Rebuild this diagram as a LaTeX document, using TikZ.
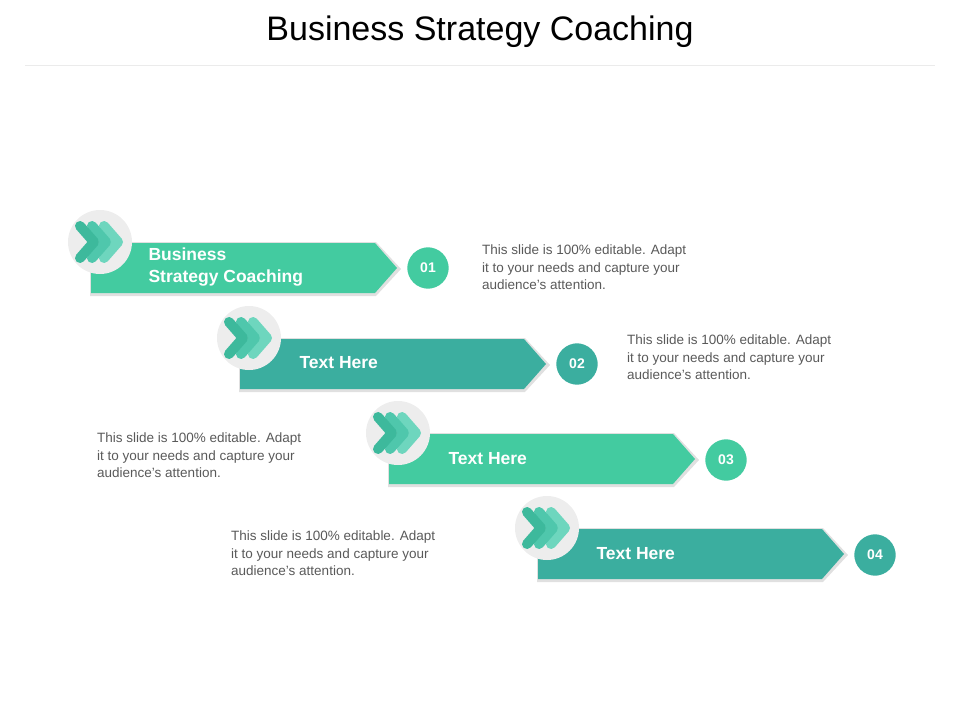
\documentclass[tikz,border=0pt]{standalone}
\usepackage{fontspec}
\setmainfont{Liberation Sans}
\usetikzlibrary{positioning}
\definecolor{mintA}{HTML}{43CBA0}
\definecolor{mintB}{HTML}{3BAE9F}
\definecolor{chevA}{HTML}{3DB99C}
\definecolor{chevB}{HTML}{4FC7AC}
\definecolor{chevC}{HTML}{6ED6BE}
\definecolor{bodygray}{HTML}{595959}
\tikzset{
  bandlabel/.style={text=white, font=\bfseries\fontsize{17.5}{22}\selectfont, anchor=west, align=left},
  numdisc/.style={circle, minimum size=44pt, inner sep=0pt, draw=white, line width=2.5pt, text=white, font=\bfseries\fontsize{14}{16}\selectfont},
  blurb/.style={text=bodygray, font=\fontsize{13.5}{17.5}\selectfont, anchor=north west, align=left, inner sep=0pt},
  chev/.style={line width=10pt, line cap=round, line join=round}
}
\newcommand{\stepband}[3]{% x, y centre, colour
  \fill[black!12] (#1-1,#2-26) -- (#1+285,#2-26) -- (#1+310,#2+1) -- (#1+285,#2+28) -- (#1-1,#2+28) -- cycle;
  \fill[#3] (#1,#2-25) -- (#1+284,#2-25) -- (#1+306,#2) -- (#1+284,#2+25) -- (#1,#2+25) -- cycle;
  \fill[black!7] (#1+9,#2-26) circle (32);
  \draw[chev, chevC] (#1+13,#2-42) -- (#1+27,#2-26) -- (#1+13,#2-10);
  \draw[chev, chevB] (#1+1,#2-42) -- (#1+15,#2-26) -- (#1+1,#2-10);
  \draw[chev, chevA] (#1-11,#2-42) -- (#1+3,#2-26) -- (#1-11,#2-10);
}
\begin{document}
\begin{tikzpicture}[x=1pt,y=-1pt]
\useasboundingbox (0,0) rectangle (960,720);
\node (title) at (480,32) {\fontsize{34}{40}\selectfont Business Strategy Coaching};
\draw[black!8] (25,65) -- (935,65);

\stepband{91}{268}{mintA}
\stepband{240}{364}{mintB}
\stepband{389}{459}{mintA}
\stepband{538}{554}{mintB}

\node[bandlabel] (lab1) at (145,267) {Business\\Strategy Coaching};
\node[bandlabel] (lab2) at (296,363) {Text Here};
\node[bandlabel] (lab3) at (445,459) {Text Here};
\node[bandlabel] (lab4) at (593,554) {Text Here};

\node[numdisc, fill=mintA] (num1) at (428,268) {01};
\node[numdisc, fill=mintB] (num2) at (577,364) {02};
\node[numdisc, fill=mintA] (num3) at (726,460) {03};
\node[numdisc, fill=mintB] (num4) at (875,555) {04};

\node[blurb] (txt1) at (482,245) {This slide is 100\% editable. Adapt\\it to your needs and capture your\\audience's attention.};
\node[blurb] (txt2) at (627,335) {This slide is 100\% editable. Adapt\\it to your needs and capture your\\audience's attention.};
\node[blurb] (txt3) at (97,433) {This slide is 100\% editable. Adapt\\it to your needs and capture your\\audience's attention.};
\node[blurb] (txt4) at (231,531) {This slide is 100\% editable. Adapt\\it to your needs and capture your\\audience's attention.};
\end{tikzpicture}
\end{document}
